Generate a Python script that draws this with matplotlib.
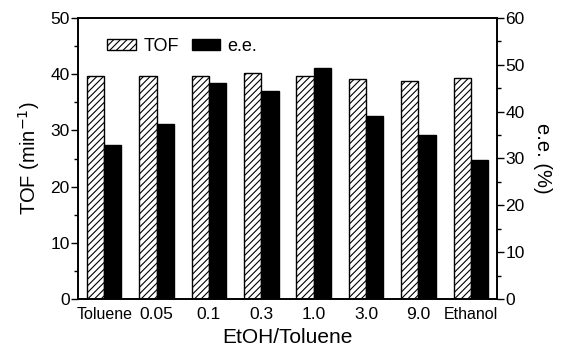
import matplotlib.pyplot as plt
import numpy as np

plt.rcParams['font.family'] = ['Liberation Sans', 'DejaVu Sans']
plt.rcParams['hatch.linewidth'] = 0.8

categorias = ['Toluene', '0.05', '0.1', '0.3', '1.0', '3.0', '9.0', 'Ethanol']
tof = [39.6, 39.6, 39.6, 40.3, 39.6, 39.2, 38.8, 39.3]
ee = [32.9, 37.3, 46.2, 44.4, 49.3, 39.1, 35.1, 29.6]

x = np.arange(len(categorias))
ancho = 0.33

fig = plt.figure(figsize=(5.65, 3.53), dpi=100)
ax = fig.add_axes([78 / 565, 1 - 299 / 353, (497 - 78) / 565, (299 - 18) / 353])
ax2 = ax.twinx()

b1 = ax.bar(x - ancho / 2, tof, ancho, color='white', edgecolor='black',
            hatch='/////', linewidth=1.0, label='TOF')
# e.e. va en el eje derecho
b2 = ax2.bar(x + ancho / 2, ee, ancho, color='black', edgecolor='black',
             linewidth=1.0, label='e.e.')

ax.set_xlim(-0.5, 7.5)
ax.set_ylim(0, 50)
ax2.set_ylim(0, 60)
ax.set_yticks(range(0, 51, 10))
ax.set_yticks(range(5, 50, 10), minor=True)
ax2.set_yticks(range(0, 61, 10))
ax2.set_yticks(range(5, 60, 10), minor=True)

ax.set_xticks(x)
ax.set_xticklabels(categorias)
for lbl in ax.get_xticklabels():
    if lbl.get_text() in ('Toluene', 'Ethanol'):
        lbl.set_fontsize(11.5)
    else:
        lbl.set_fontsize(12.5)

ax.tick_params(axis='x', length=0, pad=6)
ax.tick_params(axis='y', which='major', direction='out', length=5, width=1, labelsize=12.5, pad=1)
ax.tick_params(axis='y', which='minor', direction='out', length=3, width=1)
ax2.tick_params(axis='y', which='major', direction='out', length=5, width=1, labelsize=12.5, pad=1)
ax2.tick_params(axis='y', which='minor', direction='out', length=3, width=1)

for a in (ax, ax2):
    for s in a.spines.values():
        s.set_linewidth(1.2)

ax.set_xlabel('EtOH/Toluene', fontsize=15, labelpad=4)
ax.set_ylabel('TOF (min$^{-1}$)', fontsize=14.5, labelpad=6)
ax2.set_ylabel('e.e. (%)', fontsize=14.5, rotation=270, labelpad=20)

ax.legend([b1, b2], ['TOF', 'e.e.'], loc='upper left', bbox_to_anchor=(0.07, 0.93),
          ncol=2, frameon=False, fontsize=13, handlelength=1.6, handleheight=0.6,
          columnspacing=0.7, handletextpad=0.4, borderaxespad=0, borderpad=0)

plt.savefig('out.png', dpi=100)
